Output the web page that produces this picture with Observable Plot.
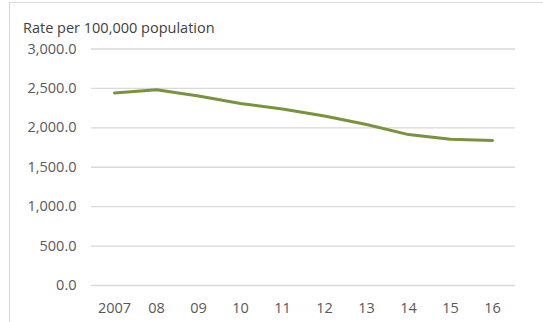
<!DOCTYPE html>
<html>
<head>
<meta charset="utf-8">
<script src="https://cdn.jsdelivr.net/npm/d3@7"></script>
<script src="https://cdn.jsdelivr.net/npm/@observablehq/plot@0.6"></script>
<style>
  html, body { margin: 0; padding: 0; background: #fff; }
  #wrap { position: relative; width: 543px; height: 322px; overflow: hidden; }
  #border { position: absolute; left: 9px; top: 2px; width: 600px; height: 400px;
            border: 1px solid #d9d9d9; box-sizing: border-box; }
  #title { position: absolute; left: 23px; top: 18px; font-family: "Open Sans", sans-serif;
           font-size: 14.5px; line-height: 20px; color: #404040; white-space: nowrap; }
  #chart { position: absolute; left: 0; top: 0; }
</style>
</head>
<body>
<div id="wrap">
  <div id="border"></div>
  <div id="chart"></div>
  <div id="title">Rate per 100,000 population</div>
</div>
<script>
// Year labels along the x axis
const years = ["2007", "08", "09", "10", "11", "12", "13", "14", "15", "16"];
// Rate per 100,000 population for each year
const rates = [2443, 2483, 2405, 2308, 2240, 2150, 2042, 1914, 1855, 1840];
// Y axis gridline values
const yTicks = [0, 500, 1000, 1500, 2000, 2500, 3000];

const data = years.map((year, i) => ({year, rate: rates[i]}));

const chart = Plot.plot({
  width: 543,
  height: 322,
  marginLeft: 91,
  marginRight: 28,
  marginTop: 48.5,
  marginBottom: 37,
  style: {fontFamily: "Open Sans, sans-serif", fontSize: "14.5px", color: "#595959", background: "transparent"},
  x: {type: "point", domain: years, padding: 0.5, label: null},
  y: {domain: [0, 3000], label: null},
  marks: [
    Plot.ruleY(yTicks, {stroke: "#d9d9d9", strokeWidth: 1.3}),
    Plot.axisY(yTicks, {tickSize: 0, tickPadding: 15, tickFormat: d3.format(",.1f"), fill: "#595959", fontSize: 14.5}),
    Plot.axisX(years, {tickSize: 0, tickPadding: 17, fill: "#595959", fontSize: 14.5}),
    Plot.line(data, {x: "year", y: "rate", stroke: "#77933c", strokeWidth: 3, strokeLinejoin: "round"})
  ]
});
document.getElementById("chart").appendChild(chart);
</script>
</body>
</html>
